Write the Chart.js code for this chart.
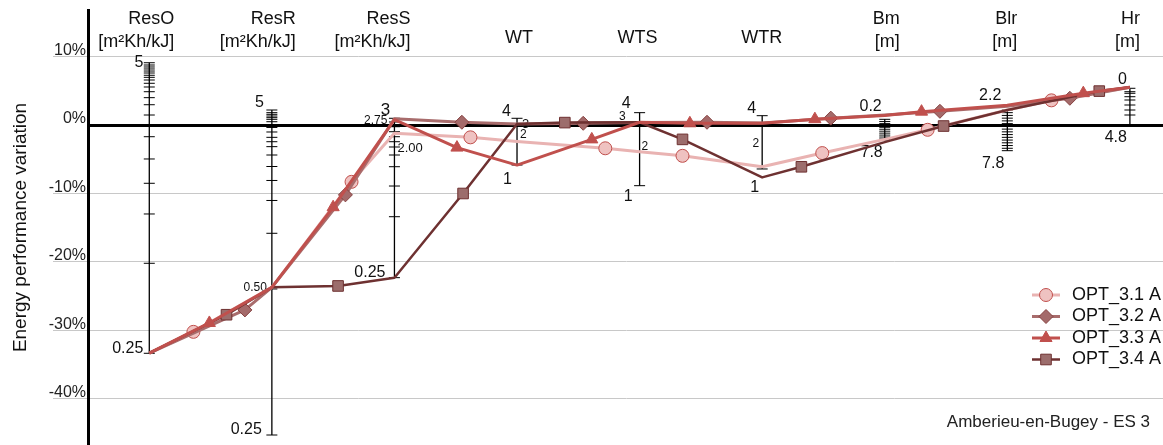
<!DOCTYPE html>
<html>
<head>
<meta charset="utf-8">
<script src="https://cdn.jsdelivr.net/npm/chart.js@4.4.1/dist/chart.umd.min.js"></script>
<style>
  html, body { margin: 0; padding: 0; background: #fff; overflow: hidden; }
  canvas { display: block; }
</style>
</head>
<body>
<canvas id="myChart" width="1163" height="445"></canvas>
<script>
// parameter axes (categories) and their units
const categories = ['ResO', 'ResR', 'ResS', 'WT', 'WTS', 'WTR', 'Bm', 'Blr', 'Hr'];
const units = ['[m²Kh/kJ]', '[m²Kh/kJ]', '[m²Kh/kJ]', '', '', '', '[m]', '[m]', '[m]'];
const seriesNames = ['OPT_3.1 A', 'OPT_3.2 A', 'OPT_3.3 A', 'OPT_3.4 A'];

// x = position along the parameter axes (integer = on an axis), y = energy performance variation in %
const opt31X = [0, 0.36, 1, 1.65, 2, 2.62, 3, 3.72, 4, 4.35, 5, 5.49, 6, 6.35, 7, 7.36, 8];
const opt31Y = [-33.3, -30.2, -23.7, -8.3, -1.2, -1.8, -2.4, -3.4, -3.9, -4.5, -6.1, -4.1, -2.1, -0.7, 2.2, 3.6, 5.5];
const opt32X = [0, 0.78, 1, 1.6, 2, 2.55, 3, 3.54, 4, 4.55, 5, 5.56, 6, 6.45, 7, 7.51, 8];
const opt32Y = [-33.3, -27.0, -23.7, -10.2, 0.9, 0.4, 0.15, 0.25, 0.35, 0.4, 0.3, 1.0, 1.45, 2.0, 2.75, 3.9, 5.5];
const opt33X = [0, 0.49, 1, 1.5, 2, 2.51, 3, 3.61, 4, 4.41, 5, 5.43, 6, 6.3, 7, 7.62, 8];
const opt33Y = [-33.3, -28.9, -23.7, -12.0, 0.8, -3.3, -5.85, -2.1, 0.4, 0.25, 0.25, 0.85, 1.4, 1.95, 2.9, 4.65, 5.5];
const opt34X = [0, 0.63, 1, 1.54, 2, 2.56, 3, 3.39, 4, 4.35, 5, 5.32, 6, 6.48, 7, 7.75, 8];
const opt34Y = [-33.3, -27.7, -23.7, -23.5, -22.3, -10.0, 0.15, 0.35, 0.4, -2.1, -7.65, -6.1, -2.5, -0.15, 2.2, 4.95, 5.5];

// tick marks of each parameter axis, in % of the main scale
const resOTicks = [9.09, 8.76, 8.47, 8.18, 7.88, 7.59, 7.26, 6.96, 6.57, 6.09, 5.55, 4.86, 3.99, 2.96, 1.46, -1.71, -4.96, -8.51, -12.99, -20.19, -33.33];
const resRTicks = [2.19, 1.80, 1.56, 1.31, 1.07, 0.83, 0.48, 0.07, -0.36, -1.02, -1.80, -2.44, -3.16, -4.38, -6.06, -8.10, -11.02, -15.81, -23.94, -45.26];
const resSTicks = [0.98, 0.44, -0.25, -0.98, -1.71, -2.44, -3.21, -4.38, -6.09, -8.91, -13.39, -22.29];
const wtTicks = [0.98, -5.84];
const wtsTicks = [1.80, -8.86];
const wtrTicks = [1.36, -6.42];
const bmTicks = [0.83, 0.5, 0.2, -0.1, -0.4, -0.7, -1.0, -1.3, -1.6, -1.9, -2.19];
const blrTicks = [2.19, 1.8, 1.4, 1.0, 0.6, 0.2, -0.2, -0.6, -1.0, -1.4, -1.8, -2.2, -2.6, -3.0, -3.4, -3.75];
const hrTicks = [5.36, 4.86, 4.63, 4.13, 3.65, 2.92, 2.19, 1.46, 0];

// end values written on the parameter axes: [axis, text, y (%)]
const axisValues = [
  [0, '5', 9.05], [0, '0.25', -32.7],
  [1, '5', 3.2], [1, '0.50', -23.8], [1, '0.25', -44.5],
  [2, '3', 2.2], [2, '2.75', 0.58], [2, '2.00', -3.36], [2, '0.25', -21.5],
  [3, '4', 1.9], [3, '3', 0.15], [3, '2', -1.46], [3, '1', -8.0],
  [4, '4', 3.07], [4, '3', 1.17], [4, '2', -3.2], [4, '1', -10.5],
  [5, '4', 2.34], [5, '2', -2.77], [5, '1', -9.2],
  [6, '0.2', 2.63], [6, '7.8', -4.1],
  [7, '2.2', 4.23], [7, '7.8', -5.7],
  [8, '0', 6.57], [8, '4.8', -1.9]
];
// placement of those labels: [align, dx, font size]
const axisValueStyle = [
  ['right', -6, 16], ['right', -6, 16],
  ['right', -8, 16], ['right', -5, 12], ['right', -10, 16],
  ['center', -9, 17], ['right', -7, 12], ['left', 3, 13], ['right', -9, 16],
  ['right', -6, 16], ['left', 5, 13], ['left', 3, 12], ['right', -5, 16],
  ['right', -9, 16], ['right', -14, 12], ['left', 2, 12], ['right', -7, 16],
  ['right', -6, 16], ['right', -3, 12], ['right', -3, 16],
  ['right', -3, 16], ['right', -2, 16],
  ['right', -6, 16], ['right', -3, 16],
  ['right', -3, 16], ['right', -3, 16]
];
const catLabelDx = [25, 24, 16, 16, 18, 20, 15, 10, 10];

const styles = [
  { line: '#e9b3b2', fill: '#efc2c1', edge: '#c0504d', point: 'circle', r: 6.5, w: 3 },
  { line: '#a86c6c', fill: '#a46a6a', edge: '#85403f', point: 'rectRot', r: 7, w: 3 },
  { line: '#c0504d', fill: '#c0504d', edge: '#c0504d', point: 'triangle', r: 7, w: 3 },
  { line: '#6e3131', fill: '#9c6d6c', edge: '#6e3131', point: 'rect', r: 7.5, w: 2.5 }
];

const seriesX = [opt31X, opt32X, opt33X, opt34X];
const seriesY = [opt31Y, opt32Y, opt33Y, opt34Y];
const axisTicks = [resOTicks, resRTicks, resSTicks, wtTicks, wtsTicks, wtrTicks, bmTicks, blrTicks, hrTicks];

const FONT = '"Liberation Sans", Arial, sans-serif';
Chart.defaults.font.family = FONT;
Chart.defaults.color = '#1a1a1a';

const lineSets = seriesNames.map((name, s) => {
  const st = styles[s];
  return {
    label: name,
    data: seriesX[s].map((x, i) => ({ x: x, y: seriesY[s][i] })),
    borderColor: st.line,
    borderWidth: st.w,
    backgroundColor: st.fill,
    pointStyle: st.point,
    pointRadius: seriesX[s].map(x => Number.isInteger(x) ? 0 : st.r),
    pointBackgroundColor: st.fill,
    pointBorderColor: st.edge,
    pointBorderWidth: 1,
    borderJoinStyle: 'round',
    tension: 0,
    order: [4, 3, 1, 2][s]
  };
});

const axisSets = axisTicks.map((t, a) => ({
  label: '_axis_' + categories[a],
  data: t.map(v => ({ x: a, y: v })),
  borderColor: '#000',
  borderWidth: 1.3,
  pointStyle: 'line',
  pointRadius: 5.5,
  pointBorderColor: '#000',
  pointBorderWidth: 1,
  order: 10
}));

function drawMarker(ctx, st, x, y) {
  ctx.save();
  ctx.fillStyle = st.fill;
  ctx.strokeStyle = st.edge;
  ctx.lineWidth = 1;
  ctx.beginPath();
  const r = st.r;
  if (st.point === 'circle') {
    ctx.arc(x, y, r, 0, Math.PI * 2);
  } else if (st.point === 'rectRot') {
    ctx.moveTo(x, y - r); ctx.lineTo(x + r, y); ctx.lineTo(x, y + r); ctx.lineTo(x - r, y); ctx.closePath();
  } else if (st.point === 'triangle') {
    const w = r * Math.sqrt(3);
    ctx.moveTo(x, y - r); ctx.lineTo(x + w / 2, y + r / 2); ctx.lineTo(x - w / 2, y + r / 2); ctx.closePath();
  } else {
    const s = r * Math.SQRT1_2;
    ctx.rect(x - s, y - s, 2 * s, 2 * s);
  }
  ctx.fill();
  ctx.stroke();
  ctx.restore();
}

const overlay = {
  id: 'overlay',
  beforeDatasetsDraw(chart) {
    const { ctx, scales: { x, y } } = chart;
    ctx.save();
    ctx.fillStyle = '#111';
    ctx.textBaseline = 'middle';
    axisValues.forEach(([a, text, v], i) => {
      const [align, dx, size] = axisValueStyle[i];
      ctx.font = size + 'px ' + FONT;
      ctx.textAlign = align;
      ctx.fillText(text, x.getPixelForValue(a) + dx, y.getPixelForValue(v));
    });
    ctx.restore();
  },
  afterDraw(chart) {
    const { ctx, scales: { x } } = chart;
    const W = chart.width, H = chart.height;
    ctx.save();
    ctx.fillStyle = '#111';
    ctx.font = '18px ' + FONT;
    ctx.textAlign = 'right';
    ctx.textBaseline = 'alphabetic';
    categories.forEach((c, i) => {
      const px = x.getPixelForValue(i) + catLabelDx[i];
      if (units[i]) {
        ctx.fillText(c, px, 24);
        ctx.fillText(units[i], px, 47);
      } else {
        ctx.fillText(c, px, 43);
      }
    });

    // legend
    const lx = W - 117;
    seriesNames.forEach((name, s) => {
      const st = styles[s];
      const ly = 295 + s * 21.5;
      ctx.strokeStyle = st.line;
      ctx.lineWidth = st.w;
      ctx.beginPath();
      ctx.moveTo(lx - 14, ly);
      ctx.lineTo(lx + 14, ly);
      ctx.stroke();
      drawMarker(ctx, st, lx, ly);
      ctx.fillStyle = '#111';
      ctx.font = '18px ' + FONT;
      ctx.textAlign = 'left';
      ctx.textBaseline = 'middle';
      ctx.fillText(name, lx + 26, ly);
    });

    ctx.font = '17px ' + FONT;
    ctx.textAlign = 'right';
    ctx.textBaseline = 'middle';
    ctx.fillStyle = '#222';
    ctx.fillText('Amberieu-en-Bugey - ES 3', W - 13, H - 23);
    ctx.restore();
  }
};

const chart = new Chart(document.getElementById('myChart').getContext('2d'), {
  type: 'line',
  data: { datasets: lineSets.concat(axisSets) },
  options: {
    responsive: false,
    animation: false,
    events: [],
    layout: { autoPadding: false, padding: { top: 10, left: 0, right: 0, bottom: 0 } },
    plugins: { legend: { display: false }, tooltip: { enabled: false } },
    scales: {
      x: { type: 'linear', min: -0.5, max: 8.27, display: false },
      y: {
        type: 'linear',
        min: -46.72,
        max: 16.79,
        afterFit(scale) {
          scale.width = 88;
          scale.paddingTop = 0;
          scale.paddingBottom = 0;
        },
        border: { color: '#000', width: 3 },
        grid: {
          color: c => c.tick && c.tick.value === 0 ? '#000' : '#c8c8c8',
          lineWidth: c => c.tick && c.tick.value === 0 ? 3 : 1,
          tickColor: c => c.tick && c.tick.value === 0 ? 'rgba(0,0,0,0)' : '#c8c8c8',
          tickLength: 35
        },
        ticks: {
          stepSize: 10,
          includeBounds: false,
          padding: -33,
          labelOffset: -6,
          font: { size: 16 },
          color: '#222',
          callback: v => v + '%'
        },
        title: {
          display: true,
          text: 'Energy performance variation',
          font: { size: 19 },
          color: '#111',
          padding: { top: 9, bottom: 0 }
        }
      }
    }
  },
  plugins: [overlay]
});
</script>
</body>
</html>
